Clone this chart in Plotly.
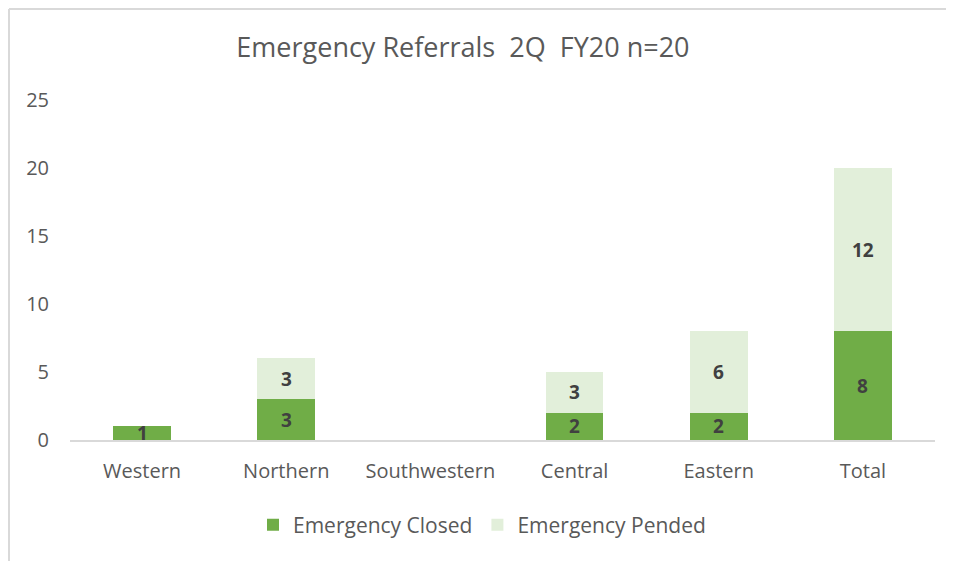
import plotly.graph_objects as go

categories = ["Western", "Northern", "Southwestern", "Central", "Eastern", "Total"]
closed = [1, 3, 0, 2, 2, 8]
pended = [0, 3, 0, 3, 6, 12]
y_ticks = [0, 5, 10, 15, 20, 25]

FONT = "Open Sans, sans-serif"
GREEN = "#70AD47"
LIGHT = "#E2EFDA"
TXT = "#595959"

fig = go.Figure()
fig.add_trace(go.Bar(name="Emergency Closed", x=categories, y=closed,
                     marker=dict(color=GREEN, line=dict(width=0))))
fig.add_trace(go.Bar(name="Emergency Pended", x=categories, y=pended,
                     marker=dict(color=LIGHT, line=dict(width=0))))

annotations = []
for c, a, b in zip(categories, closed, pended):
    if a > 0:
        annotations.append(dict(x=c, y=a / 2, text=f"<b>{a}</b>", showarrow=False,
                                font=dict(size=19, color="#404040", family=FONT)))
    if b > 0:
        annotations.append(dict(x=c, y=a + b / 2, text=f"<b>{b}</b>", showarrow=False,
                                font=dict(size=19, color="#404040", family=FONT)))

OFF = 8  # page body margin offset
W, H = 954 - OFF, 561 - OFF
L, R, T = 70 - OFF, 19, 100 - OFF
B = H - (440 - OFF)
pw, ph = W - L - R, H - T - B

def px(x):
    return (x - OFF - L) / pw

def py(y):
    return (H - B - (y - OFF)) / ph

border = dict(color="#D9D9D9", width=2)

fig.update_layout(
    width=W, height=H,
    barmode="stack", bargap=0.6,
    margin=dict(l=L, r=R, t=T, b=B),
    paper_bgcolor="white", plot_bgcolor="white",
    font=dict(family=FONT, color=TXT, size=20),
    title=dict(text="Emergency Referrals  2Q  FY20 n=20", x=px(486), xanchor="center",
               y=1 - (48 - OFF) / H, yanchor="middle", font=dict(size=27, color=TXT, family=FONT)),
    xaxis=dict(showgrid=False, showline=True, linecolor="#D9D9D9", linewidth=2,
               tickfont=dict(size=20, color=TXT), ticks="", ticklabelstandoff=12),
    yaxis=dict(range=[0, 25], tickvals=y_ticks, showgrid=False, zeroline=False,
               showline=False, tickfont=dict(size=20, color=TXT), ticklabelstandoff=20),
    legend=dict(orientation="h", x=px(482), xanchor="center", y=py(525), yanchor="middle",
                font=dict(size=21, color=TXT), itemwidth=30, traceorder="normal"),
    annotations=annotations,
    shapes=[
        dict(type="line", xref="paper", yref="paper", x0=px(9), x1=px(960),
             y0=py(9), y1=py(9), line=border, layer="below"),
        dict(type="line", xref="paper", yref="paper", x0=px(9), x1=px(9),
             y0=py(9), y1=py(570), line=border, layer="below"),
    ],
    showlegend=True,
)

fig.write_html("out.html")
